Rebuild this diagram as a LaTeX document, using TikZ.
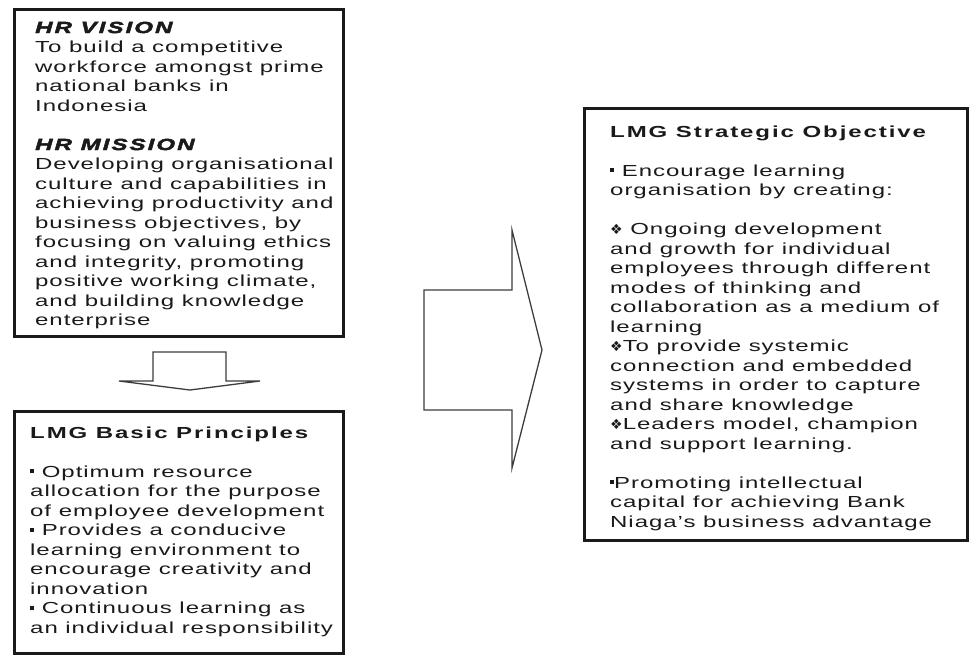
\documentclass[tikz,border=0pt]{standalone}
\usepackage{fontspec}
\setmainfont{Liberation Sans}[FakeStretch=1.5,LetterSpace=6]
\newfontfamily\symfont{DejaVu Sans}
\definecolor{ink}{HTML}{1A1A1A}
\newcommand\sqbullet{\rule[3.6pt]{4pt}{4pt}}
\newcommand\dbullet{{\symfont\fontsize{14}{12}\selectfont ❖}}
\newcommand\headfont{\bfseries\itshape\addfontfeature{FakeBold=3,LetterSpace=13}}
\newcommand\titlefont{\bfseries\addfontfeature{LetterSpace=12}}
\newcommand\bodyfont{\fontsize{16}{19.5}\selectfont}
\begin{document}
\begin{tikzpicture}[x=1pt,y=-1pt,
  panel/.style={draw=ink,line width=3pt,inner sep=0pt,anchor=north west},
  txt/.style={anchor=base west,inner sep=0pt,text=ink},
  blockarrow/.style={draw=ink!85,line width=1.3pt,line join=miter}]
\useasboundingbox (0,0) rectangle (969,654);
\fill[white] (0,0) rectangle (969,654);

% the three panels
\node[panel,minimum width=329pt,minimum height=327pt] (box1) at (13,8) {};
\node[panel,minimum width=329pt,minimum height=242pt] (box2) at (13,410) {};
\node[panel,minimum width=383pt,minimum height=432pt] (box3) at (583,107) {};

% vision and mission
\node[txt] (t1) at (35,33) {\parbox[t]{420pt}{\bodyfont
{\headfont HR VISION}\\
To build a competitive\\
workforce amongst prime\\
national banks in\\
Indonesia\\[19.5pt]
{\headfont HR MISSION}\\
Developing organisational\\
culture and capabilities in\\
achieving productivity and\\
business objectives, by\\
focusing on valuing ethics\\
and integrity, promoting\\
positive working climate,\\
and building knowledge\\
enterprise}};

% basic principles
\node[txt] (t2) at (30,438) {\parbox[t]{420pt}{\bodyfont
{\titlefont LMG Basic Principles}\\[19.5pt]
\sqbullet\ Optimum resource\\
allocation for the purpose\\
of employee development\\
\sqbullet\ Provides a conducive\\
learning environment to\\
encourage creativity and\\
innovation\\
\sqbullet\ Continuous learning as\\
an individual responsibility}};

% strategic objective
\node[txt] (t3) at (610,137) {\parbox[t]{420pt}{\bodyfont
{\titlefont LMG Strategic Objective}\\[19.5pt]
\sqbullet\ Encourage learning\\
organisation by creating:\\[19.5pt]
\dbullet\ Ongoing development\\
and growth for individual\\
employees through different\\
modes of thinking and\\
collaboration as a medium of\\
learning\\
\dbullet To provide systemic\\
connection and embedded\\
systems in order to capture\\
and share knowledge\\
\dbullet Leaders model, champion\\
and support learning.\\[19.5pt]
\sqbullet Promoting intellectual\\
capital for achieving Bank\\
Niaga's business advantage}};

% block arrow pointing down
\draw[blockarrow] (153,381) -- (153,352) -- (226,352) -- (226,381)
  -- (260,381) -- (190,390) -- (119,381) -- cycle;

% block arrow pointing right
\draw[blockarrow] (424,290) -- (512,290) -- (512,230) -- (542,350)
  -- (512,468) -- (512,410) -- (424,410) -- cycle;
\end{tikzpicture}
\end{document}
